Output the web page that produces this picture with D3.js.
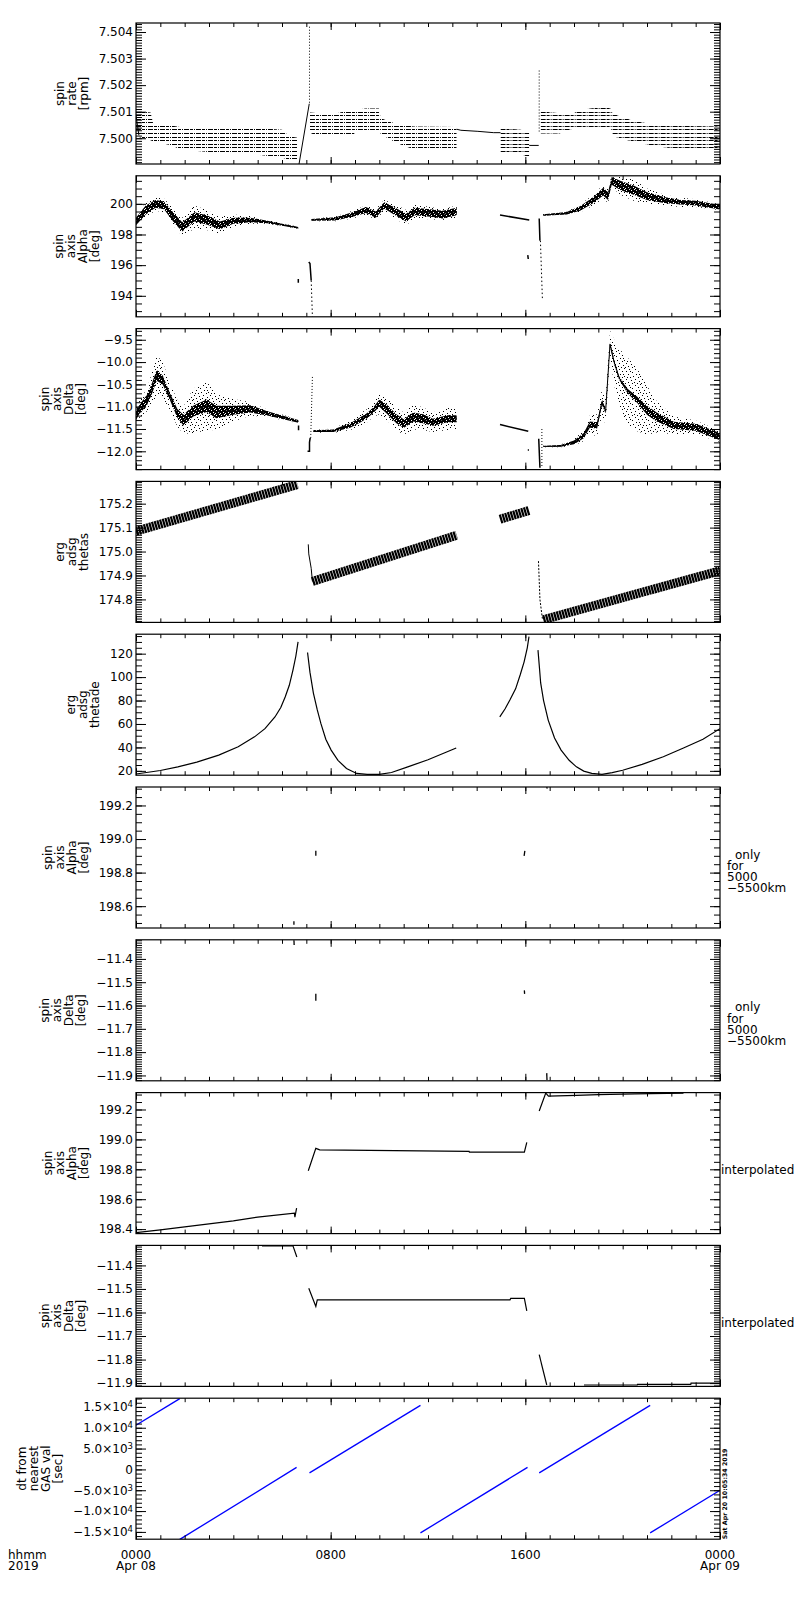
<!DOCTYPE html>
<html><head><meta charset="utf-8">
<script src="https://cdn.jsdelivr.net/npm/d3@7"></script>
<style>
body{margin:0;background:#fff;}
text{font-family:"DejaVu Sans",sans-serif;font-size:12px;fill:#000;}
</style></head><body>
<svg id="c" width="800" height="1600" xmlns="http://www.w3.org/2000/svg"></svg>
<script>
// ================= DATA =================
// time in hours since 2019-04-08 00:00
const timeTickHours = [0, 8, 16, 24];
const timeTickLabels = [["0000", "Apr 08"], ["0800", ""], ["1600", ""], ["0000", "Apr 09"]];
const axisCaption = ["hhmm", "2019"];
const stampText = "Sat Apr 20 10:05:34 2019";

const panelTitles = [
  ["spin", "rate", "[rpm]"],
  ["spin", "axis", "Alpha", "[deg]"],
  ["spin", "axis", "Delta", "[deg]"],
  ["erg", "adsg", "thetas"],
  ["erg", "adsg", "thetade"],
  ["spin", "axis", "Alpha", "[deg]"],
  ["spin", "axis", "Delta", "[deg]"],
  ["spin", "axis", "Alpha", "[deg]"],
  ["spin", "axis", "Delta", "[deg]"],
  ["dt from", "nearest", "GAS val", "[sec]"]
];
const rightLabels = [null, null, null, null, null,
  ["only", "for", "5000", "\u22125500km"], ["only", "for", "5000", "\u22125500km"],
  ["interpolated"], ["interpolated"], null];

const panelDomains = [
  [7.49903, 7.50434], [192.63, 201.83], [-12.41, -9.25], [174.704, 175.293], [16.3, 136.6],
  [198.47, 199.31], [-11.923, -11.318], [198.37, 199.313], [-11.914, -11.315], [-16750, 17090]
];
const panelMajorTicks = [
  [7.500, 7.501, 7.502, 7.503, 7.504],
  [194, 196, 198, 200],
  [-12.0, -11.5, -11.0, -10.5, -10.0, -9.5],
  [174.8, 174.9, 175.0, 175.1, 175.2],
  [20, 40, 60, 80, 100, 120],
  [198.6, 198.8, 199.0, 199.2],
  [-11.9, -11.8, -11.7, -11.6, -11.5, -11.4],
  [198.4, 198.6, 198.8, 199.0, 199.2],
  [-11.9, -11.8, -11.7, -11.6, -11.5, -11.4],
  [-15000, -10000, -5000, 0, 5000, 10000, 15000]
];
const panelMinorSteps = [0.0001, 0.5, 0.1, 0.01, 5, 0.05, 0.01, 0.05, 0.01, 1000];
const panelFormats = [".3f", "d", ".1f", ".1f", "d", ".1f", ".1f", ".1f", ".1f", null];
const dtTickLabels = [["\u22121.5\u00d710", "4"], ["\u22121.0\u00d710", "4"], ["\u22125.0\u00d710", "3"], ["0", ""],
  ["5.0\u00d710", "3"], ["1.0\u00d710", "4"], ["1.5\u00d710", "4"]];

// ---- panel 1: spin rate [rpm] ----  bands: [t, upper, lower]
const rateQuantum = 0.000135;
const rateBandA = [[0, 7.50100, 7.50010], [0.6, 7.50095, 7.49995], [0.7, 7.50055, 7.49990], [1.5, 7.50045, 7.49975],
  [1.8, 7.50040, 7.49960], [3.0, 7.50036, 7.49950], [5.0, 7.50036, 7.49940], [6.0, 7.50030, 7.49930],
  [6.3, 7.50005, 7.49920], [6.64, 7.50000, 7.49912]];
const rateBandB = [[7.15, 7.50095, 7.50024], [7.4, 7.50093, 7.50011], [8.25, 7.50092, 7.50011], [8.9, 7.50105, 7.50011],
  [9.0, 7.50105, 7.50024], [9.45, 7.50110, 7.50024], [10.0, 7.50110, 7.50024], [10.05, 7.50074, 7.50020],
  [10.3, 7.50065, 7.50005], [10.6, 7.50055, 7.49990], [10.85, 7.50050, 7.49980], [11.4, 7.50042, 7.49961],
  [13.18, 7.50040, 7.49961]];
const rateBandD = [[14.98, 7.50036, 7.49949], [15.8, 7.50030, 7.49943], [16.16, 7.50024, 7.49930]];
const rateBandF = [[16.63, 7.50099, 7.50020], [17.4, 7.50092, 7.50020], [18.0, 7.50092, 7.50040], [18.1, 7.50102, 7.50040],
  [18.9, 7.50113, 7.50040], [19.5, 7.50113, 7.50040], [19.6, 7.50090, 7.50010], [20.4, 7.50065, 7.49990],
  [21.2, 7.50050, 7.49975], [22.0, 7.50045, 7.49965], [24, 7.50042, 7.49961]];
const rateBands = [rateBandA, rateBandB, rateBandD, rateBandF];
const rateLines = [
  [[0, 7.50086], [0.12, 7.50011]],
  [[6.7, 7.49903], [7.12, 7.50130]],
  [[13.18, 7.50034], [13.35, 7.50030], [14.05, 7.50026], [14.7, 7.50021], [14.98, 7.50021]],
  [[16.16, 7.49973], [16.55, 7.49973]]
];
const rateDotted = [
  [[7.13, 7.50420], [7.13, 7.50130]],
  [[16.57, 7.50255], [16.57, 7.50020]]
];

// ---- panel 2: spin axis Alpha [deg] ---- scatter: [t, centre, core half width, scatter half width]
const alphaSegA = [[0.0, 198.85, 0.25, 0.35], [0.4, 199.6, 0.3, 0.45], [0.8, 200.0, 0.25, 0.45], [1.15, 199.9, 0.25, 0.45],
  [1.55, 199.1, 0.3, 0.55], [1.9, 198.5, 0.3, 0.6], [2.1, 198.75, 0.3, 0.7], [2.4, 199.15, 0.3, 0.75],
  [2.9, 198.95, 0.3, 0.65], [3.45, 198.6, 0.25, 0.55], [4.0, 198.9, 0.2, 0.4], [4.7, 198.95, 0.15, 0.25],
  [5.4, 198.82, 0.08, 0.12], [6.67, 198.44, 0.05, 0.06]];
const alphaSegB = [[7.21, 198.95, 0.06, 0.08], [8.2, 199.02, 0.1, 0.15], [8.9, 199.3, 0.15, 0.25], [9.45, 199.6, 0.2, 0.3],
  [9.85, 199.3, 0.2, 0.35], [10.2, 199.9, 0.2, 0.35], [10.6, 199.55, 0.25, 0.45], [11.1, 199.1, 0.25, 0.5],
  [11.45, 199.5, 0.25, 0.45], [12.1, 199.4, 0.25, 0.4], [12.6, 199.3, 0.25, 0.35], [13.18, 199.5, 0.25, 0.4]];
const alphaSegD = [[16.74, 199.27, 0.05, 0.06], [17.7, 199.38, 0.08, 0.1], [18.25, 199.7, 0.15, 0.25], [18.8, 200.25, 0.2, 0.35],
  [19.2, 200.8, 0.25, 0.45], [19.4, 200.5, 0.25, 0.45], [19.55, 201.5, 0.25, 0.4], [19.9, 201.2, 0.3, 0.6],
  [20.45, 200.9, 0.3, 0.7], [21.0, 200.5, 0.25, 0.5], [21.7, 200.25, 0.2, 0.35], [22.4, 200.1, 0.15, 0.3],
  [23.0, 200.05, 0.15, 0.25], [24, 199.78, 0.15, 0.2]];
const alphaScatter = [alphaSegA, alphaSegB, alphaSegD];
const alphaLines = [
  [[6.67, 195.1], [6.67, 194.85]],
  [[7.1, 196.2], [7.15, 196.1], [7.2, 195.0]],
  [[14.96, 199.27], [16.16, 198.95]],
  [[16.1, 196.65], [16.12, 196.4]],
  [[16.57, 199.05], [16.6, 197.6]]
];
const alphaDotted = [
  [[7.2, 195.0], [7.25, 192.63]],
  [[16.62, 197.6], [16.7, 193.85]]
];

// ---- panel 3: spin axis Delta [deg] ----
const deltaSegA = [[0.0, -11.2, 0.1, 0.15], [0.15, -11.05, 0.1, 0.2], [0.45, -10.85, 0.12, 0.25], [0.65, -10.6, 0.12, 0.35],
  [0.85, -10.3, 0.12, 0.45], [1.1, -10.4, 0.1, 0.4], [1.4, -10.78, 0.08, 0.3], [1.7, -11.15, 0.1, 0.3],
  [1.95, -11.3, 0.12, 0.3], [2.35, -11.1, 0.12, 0.5], [2.9, -10.98, 0.14, 0.55], [3.3, -11.12, 0.14, 0.4],
  [4.0, -11.08, 0.1, 0.25], [4.7, -11.05, 0.08, 0.15], [5.4, -11.15, 0.05, 0.08], [6.67, -11.33, 0.03, 0.04]];
const deltaSegB = [[7.29, -11.55, 0.02, 0.03], [8.1, -11.54, 0.03, 0.05], [8.8, -11.42, 0.05, 0.1], [9.2, -11.3, 0.06, 0.15],
  [9.5, -11.2, 0.06, 0.15], [9.75, -11.08, 0.06, 0.15], [10.0, -10.92, 0.08, 0.25], [10.3, -11.05, 0.1, 0.25],
  [10.7, -11.27, 0.1, 0.25], [11.0, -11.38, 0.1, 0.25], [11.4, -11.23, 0.1, 0.28], [11.8, -11.27, 0.1, 0.25],
  [12.2, -11.35, 0.08, 0.22], [12.8, -11.27, 0.08, 0.25], [13.18, -11.27, 0.08, 0.25]];
const deltaSegD = [[16.74, -11.89, 0.01, 0.02], [17.45, -11.88, 0.02, 0.03], [18.0, -11.8, 0.04, 0.07], [18.4, -11.65, 0.06, 0.12],
  [18.65, -11.4, 0.07, 0.2], [18.95, -11.42, 0.07, 0.25], [19.15, -10.9, 0.06, 0.3], [19.3, -11.1, 0.05, 0.3],
  [19.48, -9.6, 0.05, 0.3], [19.65, -10.0, 0.05, 0.5], [19.85, -10.35, 0.04, 0.65], [20.2, -10.65, 0.05, 0.75],
  [20.6, -10.85, 0.07, 0.7], [21.0, -11.08, 0.1, 0.55], [21.4, -11.23, 0.1, 0.35], [22.1, -11.42, 0.08, 0.2],
  [23.0, -11.46, 0.08, 0.15], [24, -11.67, 0.08, 0.12]];
const deltaScatter = [deltaSegA, deltaSegB, deltaSegD];
const deltaLines = [
  [[6.68, -11.42], [6.68, -11.53]],
  [[7.05, -12.0], [7.13, -12.0], [7.13, -11.8], [7.16, -11.7]],
  [[14.96, -11.40], [16.12, -11.55]],
  [[16.1, -11.97], [16.15, -11.97]],
  [[16.55, -11.72], [16.6, -12.37]]
];
const deltaDotted = [
  [[7.18, -11.7], [7.25, -10.33]],
  [[16.68, -11.5], [16.68, -12.37]]
];

// ---- panel 4: erg adsg thetas ----
const thetasBands = [
  [[0, 175.085], [6.64, 175.28]],
  [[7.25, 174.875], [13.18, 175.068]],
  [[14.96, 175.135], [16.17, 175.172]],
  [[16.74, 174.715], [24, 174.92]]
];
const thetasLines = [
  [[7.08, 175.03], [7.1, 174.99], [7.2, 174.93], [7.25, 174.875]]
];
const thetasDotted = [
  [[16.54, 174.96], [16.6, 174.8], [16.7, 174.72]]
];

// ---- panel 5: erg adsg thetade ----
const thetadeLines = [
  [[0, 17.3], [0.5, 18.8], [1.0, 20.3], [1.72, 23.4], [2.5, 27.5], [3.4, 33.4], [4.2, 40.5], [4.87, 49], [5.3, 56],
   [5.71, 66], [5.95, 74], [6.13, 83], [6.3, 93], [6.45, 106], [6.57, 118], [6.66, 130]],
  [[7.05, 121], [7.15, 104], [7.29, 86.4], [7.45, 72], [7.6, 60.3], [7.8, 47], [8.02, 37.7], [8.3, 29], [8.65, 22],
   [9.07, 17.8], [9.5, 17], [10.0, 17], [10.5, 18.6], [11.17, 23.4], [12.0, 29.5], [13.16, 39.5]],
  [[14.95, 66], [15.17, 73], [15.37, 80.6], [15.6, 90], [15.79, 102], [15.95, 113], [16.08, 125], [16.15, 134.5]],
  [[16.52, 123], [16.58, 108], [16.63, 95], [16.75, 80], [16.94, 63.3], [17.2, 48], [17.47, 37.7], [17.8, 29],
   [18.1, 23.4], [18.4, 19.8], [18.73, 17.8], [19.15, 17], [19.57, 18.5], [20.0, 20.5], [20.8, 25.5], [21.67, 32],
   [22.5, 39.5], [23.3, 47], [24, 56]]
];

// ---- panel 6/7: only for 5000-5500 km ----
const alphaShellMarks = [
  [[6.49, 198.51], [6.49, 198.49]], [[7.39, 198.93], [7.39, 198.90]],
  [[15.95, 198.90], [15.98, 198.93]], [[16.88, 199.31], [16.9, 199.30]]
];
const deltaShellMarks = [
  [[6.49, -11.32], [6.5, -11.34]], [[7.39, -11.55], [7.39, -11.58]],
  [[15.96, -11.535], [15.97, -11.55]], [[16.88, -11.89], [16.89, -11.92]]
];

// ---- panel 8/9: interpolated ----
const alphaInterp = [
  [[0, 198.376], [1, 198.395], [2, 198.415], [3, 198.435], [4, 198.455], [5, 198.48], [6.51, 198.507], [6.53, 198.48], [6.6, 198.54]],
  [[7.08, 198.79], [7.39, 198.94], [7.55, 198.93], [13.69, 198.92], [13.7, 198.915], [15.96, 198.915], [16.06, 198.98]],
  [[16.57, 199.19], [16.84, 199.31], [16.95, 199.29], [18.1, 199.295], [19.0, 199.30], [20.5, 199.305], [22.5, 199.31]]
];
const deltaInterp = [
  [[0.46, -11.311], [5.19, -11.312], [5.2, -11.317], [6.45, -11.317], [6.61, -11.364]],
  [[7.1, -11.497], [7.39, -11.574], [7.45, -11.546], [15.37, -11.546], [15.4, -11.54], [15.96, -11.54], [16.06, -11.593]],
  [[16.57, -11.779], [16.88, -11.908]],
  [[18.41, -11.908], [20.6, -11.908], [20.61, -11.905], [22.8, -11.905], [22.81, -11.9], [24, -11.9]]
];

// ---- panel 10: dt from nearest GAS val [sec] ----
const dtSegments = [
  [[0, 10600], [1.8, 17000]],
  [[1.8, -16800], [6.6, 480]],
  [[7.13, -820], [11.69, 15370]],
  [[11.69, -15240], [16.09, 480]],
  [[16.57, -820], [21.13, 15370]],
  [[21.13, -15240], [24, -5000]]
];

// ================= LAYOUT =================
const PANEL_TOP = 23, PANEL_STEP = 152.8, PANEL_H = 141, X0 = 136, X1 = 720;
const svg = d3.select("#c");
const defs = svg.append("defs");
const x = d3.scaleLinear().domain([0, 24]).range([X0, X1]);

// textures for scattered points (style only)
const pat = defs.append("pattern").attr("id", "sparse").attr("patternUnits", "userSpaceOnUse")
  .attr("width", 16).attr("height", 16);
[[0, 0], [5, 1], [11, 1], [14, 3], [2, 3], [8, 4], [12, 6], [4, 6], [0, 8], [9, 8], [6, 9], [14, 9], [2, 11],
 [11, 11], [7, 12], [15, 13], [4, 14], [10, 14], [13, 15], [1, 15], [6, 3], [15, 6], [3, 9], [8, 15]].forEach(([a, b]) =>
  pat.append("rect").attr("x", a).attr("y", b).attr("width", 1).attr("height", 1).attr("fill", "#000"));
const den = defs.append("pattern").attr("id", "dense").attr("patternUnits", "userSpaceOnUse")
  .attr("width", 5).attr("height", 5);
den.append("rect").attr("width", 5).attr("height", 5).attr("fill", "#000");
[[1, 0], [3, 2], [0, 3], [4, 4]].forEach(([a, b]) =>
  den.append("rect").attr("x", a).attr("y", b).attr("width", 1).attr("height", 1).attr("fill", "#fff"));

function drawLines(g, y, series, opts = {}) {
  const lg = d3.line().x(d => x(d[0])).y(d => y(d[1]));
  g.append("g").selectAll("path").data(series).join("path")
    .attr("d", lg).attr("fill", "none")
    .attr("stroke", opts.color || "#000")
    .attr("stroke-width", opts.width || 1)
    .attr("stroke-dasharray", opts.dash || null);
}
function drawScatter(g, y, segs) {
  segs.forEach(s => {
    g.append("path").attr("d", d3.area().x(d => x(d[0])).y0(d => y(d[1] - d[3])).y1(d => y(d[1] + d[3]))(s))
      .attr("fill", "url(#sparse)");
    g.append("path").attr("d", d3.area().x(d => x(d[0])).y0(d => y(d[1] - d[2])).y1(d => y(d[1] + d[2]))(s))
      .attr("fill", "url(#dense)");
    g.append("path").attr("d", d3.line().x(d => x(d[0])).y(d => y(d[1]))(s))
      .attr("fill", "none").attr("stroke", "#000").attr("stroke-width", 1);
  });
}
function drawRateBands(g, y) {
  rateBands.forEach((b, k) => {
    const id = "rb" + k;
    defs.append("clipPath").attr("id", id).append("path")
      .attr("d", d3.area().x(d => x(d[0])).y0(d => y(d[2]) + 0.6).y1(d => y(d[1]) - 0.6)(b));
    const lo = d3.min(b, d => d[2]), hi = d3.max(b, d => d[1]);
    const levels = d3.range(Math.floor(lo / rateQuantum), Math.ceil(hi / rateQuantum) + 1).map(q => q * rateQuantum);
    g.append("g").attr("clip-path", `url(#${id})`).selectAll("line").data(levels).join("line")
      .attr("x1", x(b[0][0])).attr("x2", x(b[b.length - 1][0]))
      .attr("y1", d => Math.round(y(d)) + 0.5).attr("y2", d => Math.round(y(d)) + 0.5)
      .attr("stroke", "#000").attr("stroke-width", 1).attr("stroke-dasharray", "5,1,3,1,1,1");
  });
}

const panelDraw = [
  (g, y) => { drawRateBands(g, y); drawLines(g, y, rateLines); drawLines(g, y, rateDotted, { dash: "1,2" }); },
  (g, y) => { drawScatter(g, y, alphaScatter); drawLines(g, y, alphaLines, { width: 1.5 }); drawLines(g, y, alphaDotted, { dash: "1.5,2.5" }); },
  (g, y) => { drawScatter(g, y, deltaScatter); drawLines(g, y, deltaLines, { width: 1.5 }); drawLines(g, y, deltaDotted, { dash: "1,2" }); },
  (g, y) => { drawLines(g, y, thetasBands, { width: 9, dash: "2.2,0.6" }); drawLines(g, y, thetasLines); drawLines(g, y, thetasDotted, { dash: "2,1.5" }); },
  (g, y) => { drawLines(g, y, thetadeLines, { width: 1.2 }); },
  (g, y) => { drawLines(g, y, alphaShellMarks, { width: 1.3 }); },
  (g, y) => { drawLines(g, y, deltaShellMarks, { width: 1.3 }); },
  (g, y) => { drawLines(g, y, alphaInterp, { width: 1.2 }); },
  (g, y) => { drawLines(g, y, deltaInterp, { width: 1.2 }); },
  (g, y) => { drawLines(g, y, dtSegments, { color: "#0000ff", width: 1.3 }); }
];

const hours = d3.range(0, 25);
const majorHours = timeTickHours;

panelDomains.forEach((dom, i) => {
  const top = PANEL_TOP + i * PANEL_STEP, bot = top + PANEL_H;
  const y = d3.scaleLinear().domain(dom).range([bot, top]);
  const g = svg.append("g");
  defs.append("clipPath").attr("id", "clip" + i).append("rect")
    .attr("x", X0).attr("y", top).attr("width", X1 - X0).attr("height", PANEL_H);
  const dg = g.append("g").attr("clip-path", `url(#clip${i})`);
  panelDraw[i](dg, y);

  // y minor ticks
  const st = panelMinorSteps[i];
  const minor = d3.range(Math.ceil(dom[0] / st - 1e-6), Math.floor(dom[1] / st + 1e-6) + 1).map(k => k * st);
  const cleanAxis = sel => { sel.select(".domain").remove(); sel.attr("font-size", null).attr("font-family", null); };
  g.append("g").attr("transform", `translate(${X0},0)`)
    .call(d3.axisLeft(y).tickValues(minor).tickSize(-6).tickFormat("")).call(cleanAxis);
  g.append("g").attr("transform", `translate(${X1},0)`)
    .call(d3.axisRight(y).tickValues(minor).tickSize(-6).tickFormat("")).call(cleanAxis);
  g.append("g").attr("transform", `translate(${X1},0)`)
    .call(d3.axisRight(y).tickValues(panelMajorTicks[i]).tickSize(-10).tickFormat("")).call(cleanAxis);
  const left = g.append("g").attr("transform", `translate(${X0},0)`)
    .call(d3.axisLeft(y).tickValues(panelMajorTicks[i]).tickSize(-10).tickPadding(3)
      .tickFormat(panelFormats[i] ? d3.format(panelFormats[i]) : "")).call(cleanAxis);
  if (i === 9) {
    left.selectAll(".tick text").each(function (d, k) {
      const t = d3.select(this); const lab = dtTickLabels[k];
      t.text(lab[0]);
      if (lab[1]) t.append("tspan").attr("dy", "-0.45em").attr("font-size", "8.5px").text(lab[1]);
    });
  }

  // x ticks top and bottom
  [[bot, d3.axisBottom], [top, d3.axisTop]].forEach(([yy, ax]) => {
    g.append("g").attr("transform", `translate(0,${yy})`)
      .call(ax(x).tickValues(hours).tickSize(-4).tickFormat("")).call(cleanAxis);
    g.append("g").attr("transform", `translate(0,${yy})`)
      .call(ax(x).tickValues(majorHours).tickSize(-7).tickFormat("")).call(cleanAxis);
  });

  // frame
  g.append("rect").attr("x", X0).attr("y", top).attr("width", X1 - X0).attr("height", PANEL_H)
    .attr("fill", "none").attr("stroke", "#000").attr("stroke-width", 1.2);

  // title
  const bb = left.node().getBBox();
  const lastBase = bb.x + X0 - 11;
  const cy = (top + bot) / 2;
  const lines = panelTitles[i];
  lines.forEach((s, k) => {
    const bx = lastBase - (lines.length - 1 - k) * 12;
    svg.append("text").attr("transform", `translate(${bx},${cy}) rotate(-90)`)
      .attr("text-anchor", "middle").text(s);
  });

  // right label
  const rl = rightLabels[i];
  if (rl) {
    if (rl.length === 1) {
      svg.append("text").attr("x", X1 + 1).attr("y", cy + 11).text(rl[0]);
    } else {
      rl.forEach((s, k) => svg.append("text").attr("x", k === 0 ? X1 + 15 : X1 + 7)
        .attr("y", cy + 1 + k * 11.3).text(s));
    }
  }
});

// bottom time labels
const lastBot = PANEL_TOP + 9 * PANEL_STEP + PANEL_H;
timeTickHours.forEach((h, k) => {
  svg.append("text").attr("x", x(h)).attr("y", lastBot + 19.5).attr("text-anchor", "middle").text(timeTickLabels[k][0]);
  if (timeTickLabels[k][1]) svg.append("text").attr("x", x(h)).attr("y", lastBot + 30.5).attr("text-anchor", "middle").text(timeTickLabels[k][1]);
});
svg.append("text").attr("x", 8).attr("y", lastBot + 19.5).text(axisCaption[0]);
svg.append("text").attr("x", 8).attr("y", lastBot + 30.5).text(axisCaption[1]);

// timestamp
svg.append("text").attr("transform", `translate(${X1 + 7.3},${lastBot}) rotate(-90)`)
  .style("font-size", "6.3px").style("font-weight", "bold").text(stampText);
</script>
</body></html>
